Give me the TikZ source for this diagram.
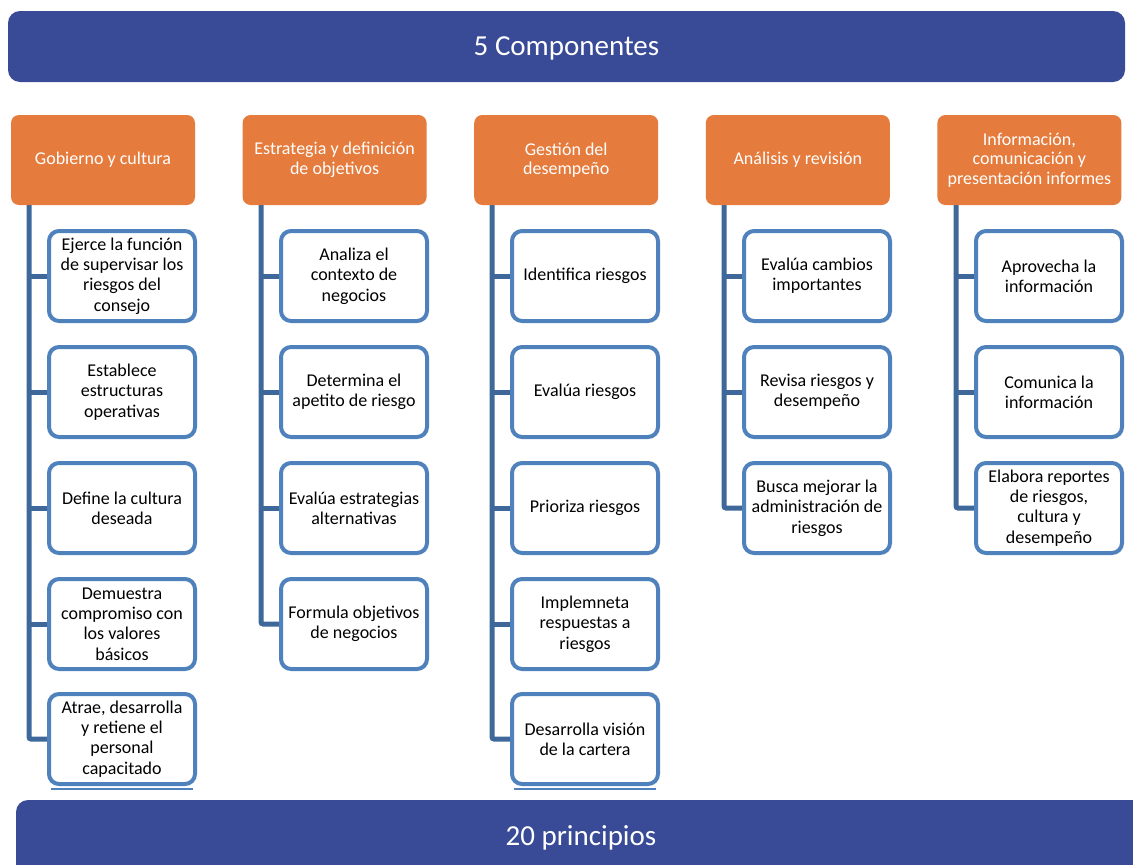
\documentclass[tikz,border=0pt]{standalone}
\usepackage{fontspec}
\setmainfont{Carlito}
\usetikzlibrary{backgrounds}
\definecolor{bannerblue}{HTML}{394A96}
\definecolor{hdrorange}{HTML}{E57B3C}
\definecolor{boxblue}{HTML}{4F81BD}
\definecolor{connblue}{HTML}{3E6899}
\tikzset{
  banner/.style={fill=bannerblue, rounded corners=12pt},
  bannertext/.style={text=white, font=\fontsize{29}{34}\selectfont},
  hdr/.style={fill=hdrorange, rounded corners=8pt, minimum width=184pt, minimum height=90pt,
    inner sep=0pt, align=center, text=white, font=\fontsize{18}{19.6}\selectfont},
  item/.style={draw=boxblue, line width=4pt, rounded corners=10pt, fill=white,
    minimum width=146pt, minimum height=90pt, inner sep=0pt, align=center,
    text=black, font=\fontsize{18}{20.3}\selectfont},
  conn/.style={draw=connblue, line width=5pt, rounded corners=2pt},
  ghost/.style={draw=boxblue, line width=1.6pt}
}
\begin{document}
\begin{tikzpicture}[x=1pt,y=-1pt]
\useasboundingbox (0,0) rectangle (1133,865);
\clip (0,0) rectangle (1133,865);

% title banners
\fill[banner] (8,11) rectangle (1125,82);
\node[bannertext] (top) at (566.5,48) {5 Componentes};
\fill[banner] (16,800) rectangle (1146,884);
\node[bannertext] (bottom) at (581,838) {20 principios};

% component headers
\node[hdr] (h1) at (103,160) {Gobierno y cultura};
\node[hdr] (h2) at (334.6,160) {Estrategia y definición\\de objetivos};
\node[hdr] (h3) at (566.2,160) {Gestión del\\desempeño};
\node[hdr] (h4) at (797.8,160) {Análisis y revisión};
\node[hdr] (h5) at (1029.4,160) {Información,\\comunicación y\\presentación informes};

% principles, column 1
\node[item] (a1) at (122,276) {Ejerce la función\\de supervisar los\\riesgos del\\consejo};
\node[item] (a2) at (122,392) {Establece\\estructuras\\operativas};
\node[item] (a3) at (122,508) {Define la cultura\\deseada};
\node[item] (a4) at (122,624) {Demuestra\\compromiso con\\los valores\\básicos};
\node[item] (a5) at (122,739) {Atrae, desarrolla\\y retiene el\\personal\\capacitado};

% column 2
\node[item] (b1) at (354,276) {Analiza el\\contexto de\\negocios};
\node[item] (b2) at (354,392) {Determina el\\apetito de riesgo};
\node[item] (b3) at (354,508) {Evalúa estrategias\\alternativas};
\node[item] (b4) at (354,624) {Formula objetivos\\de negocios};

% column 3
\node[item] (c1) at (585,276) {Identifica riesgos};
\node[item] (c2) at (585,392) {Evalúa riesgos};
\node[item] (c3) at (585,508) {Prioriza riesgos};
\node[item] (c4) at (585,624) {Implemneta\\respuestas a\\riesgos};
\node[item] (c5) at (585,739) {Desarrolla visión\\de la cartera};

% column 4
\node[item] (d1) at (817,276) {Evalúa cambios\\importantes};
\node[item] (d2) at (817,392) {Revisa riesgos y\\desempeño};
\node[item] (d3) at (817,508) {Busca mejorar la\\administración de\\riesgos};

% column 5
\node[item] (e1) at (1049,276) {Aprovecha la\\información};
\node[item] (e2) at (1049,392) {Comunica la\\información};
\node[item] (e3) at (1049,508) {Elabora reportes\\de riesgos,\\cultura y\\desempeño};

% doubled lower edge under the last boxes
\draw[ghost] ([xshift=4pt,yshift=-3pt]a5.south west) -- ([xshift=-4pt,yshift=-3pt]a5.south east);
\draw[ghost] ([xshift=4pt,yshift=-3pt]c5.south west) -- ([xshift=-4pt,yshift=-3pt]c5.south east);

% spines under each header
\coordinate (s1) at (29,205);
\coordinate (s2) at (261,205);
\coordinate (s3) at (492,205);
\coordinate (s4) at (724,205);
\coordinate (s5) at (956,205);

\begin{scope}[on background layer]
  \draw[conn] (h1.south -| s1) |- (a5.west);
  \foreach \n in {a1,a2,a3,a4} \draw[conn] (\n.west -| s1) -- (\n.west);
  \draw[conn] (h2.south -| s2) |- (b4.west);
  \foreach \n in {b1,b2,b3} \draw[conn] (\n.west -| s2) -- (\n.west);
  \draw[conn] (h3.south -| s3) |- (c5.west);
  \foreach \n in {c1,c2,c3,c4} \draw[conn] (\n.west -| s3) -- (\n.west);
  \draw[conn] (h4.south -| s4) |- (d3.west);
  \foreach \n in {d1,d2} \draw[conn] (\n.west -| s4) -- (\n.west);
  \draw[conn] (h5.south -| s5) |- (e3.west);
  \foreach \n in {e1,e2} \draw[conn] (\n.west -| s5) -- (\n.west);
\end{scope}
\end{tikzpicture}
\end{document}
